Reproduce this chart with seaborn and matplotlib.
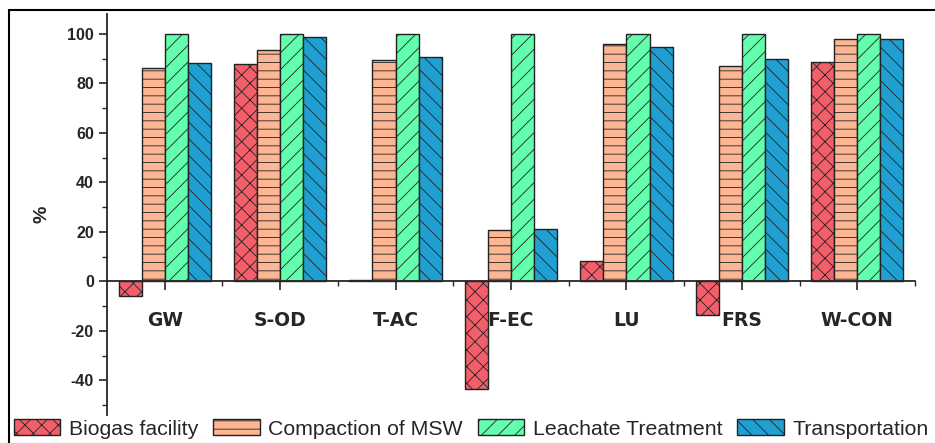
import matplotlib
matplotlib.use("Agg")
import matplotlib.pyplot as plt
import seaborn as sns
import pandas as pd
from matplotlib.patches import Patch
from matplotlib.lines import Line2D
from matplotlib.ticker import MultipleLocator, FixedLocator

categories = ["GW", "S-OD", "T-AC", "F-EC", "LU", "FRS", "W-CON"]
series = ["Biogas facility", "Compaction of MSW", "Leachate Treatment", "Transportation"]
biogas = [-6, 88, 0.5, -43.5, 8.2, -13.4, 88.7]
compaction = [86, 93.6, 89.6, 20.9, 95.8, 87, 98]
leachate = [100, 100, 100, 100, 100, 100, 100]
transportation = [88.3, 98.9, 90.6, 21, 94.5, 89.9, 98.1]

colors = ["#F25F6A", "#FDB694", "#63FDAE", "#20A0D2"]
hatches = ["xx", "--", "//", "\\\\"]

rows = []
for s, vals in zip(series, [biogas, compaction, leachate, transportation]):
    for c, v in zip(categories, vals):
        rows.append({"cat": c, "series": s, "val": v})
df = pd.DataFrame(rows)

sns.set_style("ticks")
plt.rcParams["font.family"] = ["Liberation Sans", "DejaVu Sans"]
plt.rcParams["hatch.linewidth"] = 0.6
plt.rcParams["axes.unicode_minus"] = False

fig = plt.figure(figsize=(9.35, 4.43), dpi=100)
ax = fig.add_axes([107/935, 1-415/443, (915-107)/935, (415-14)/443])

sns.barplot(data=df, x="cat", y="val", hue="series", order=categories,
            hue_order=series, palette=colors, edgecolor="#222222",
            linewidth=1.0, saturation=1, legend=False, ax=ax, width=0.8)

for cont, h in zip(ax.containers, hatches):
    for bar in cont:
        bar.set_hatch(h)

ax.set_xlim(-0.5, 6.5)
ax.set_ylim(-54, 108)
ax.spines["top"].set_visible(False)
ax.spines["right"].set_visible(False)
ax.spines["bottom"].set_position(("data", 0))
ax.spines["left"].set_linewidth(1.3)
ax.spines["bottom"].set_linewidth(1.3)

ax.yaxis.set_major_locator(FixedLocator([-40, -20, 0, 20, 40, 60, 80, 100]))
ax.yaxis.set_minor_locator(MultipleLocator(10))
ax.xaxis.set_minor_locator(FixedLocator([0.5, 1.5, 2.5, 3.5, 4.5, 5.5, 6.5]))
ax.tick_params(axis="y", which="major", direction="out", length=6, width=1.2,
               labelsize=11.5)
ax.tick_params(axis="y", which="minor", direction="out", length=3.5, width=1.0)
ax.tick_params(axis="x", which="major", direction="out", length=6.5, width=1.2,
               pad=15, labelsize=13.5)
ax.tick_params(axis="x", which="minor", direction="out", length=3.5, width=1.0)
for lab in ax.get_yticklabels():
    lab.set_fontweight("bold")
for lab in ax.get_xticklabels():
    lab.set_fontweight("bold")
    lab.set_family(["DejaVu Sans"])

ax.set_xlabel("")
ax.set_ylabel("%", fontsize=14, fontweight="bold", labelpad=12)

handles = [Patch(facecolor=c, edgecolor="#222222", hatch=h, linewidth=1.0, label=s)
           for c, h, s in zip(colors, hatches, series)]
fig.legend(handles=handles, loc="center", bbox_to_anchor=(0.504, 0.032),
           ncol=4, frameon=False, fontsize=15.3, handlelength=2.2,
           handleheight=0.8, handletextpad=0.4, columnspacing=0.7,
           borderpad=0, borderaxespad=0)

fig.add_artist(Line2D([9/935, 9/935], [0, 1-10/443], transform=fig.transFigure,
                      color="black", linewidth=1.5))
fig.add_artist(Line2D([9/935, 1], [1-10/443, 1-10/443], transform=fig.transFigure,
                      color="black", linewidth=1.5))

fig.savefig("out.png", dpi=100)
